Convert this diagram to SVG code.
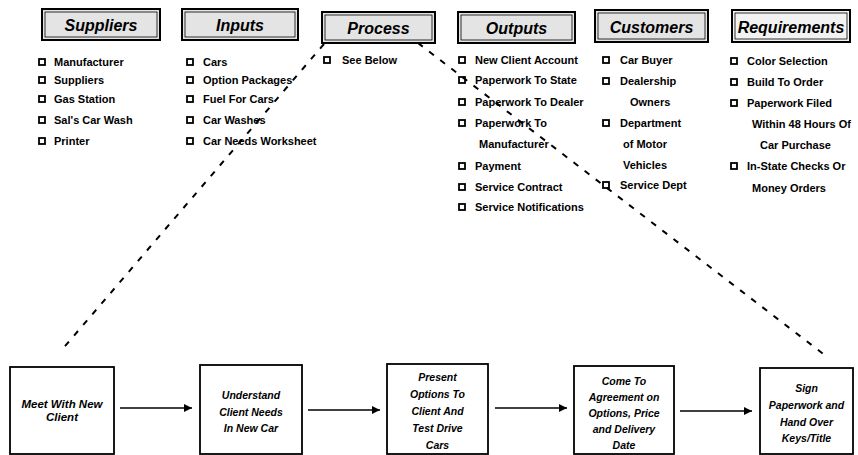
<svg xmlns="http://www.w3.org/2000/svg" width="858" height="455" viewBox="0 0 858 455">
<defs>
<marker id="arr" viewBox="0 0 10 10" refX="10" refY="5" markerWidth="10" markerHeight="8" markerUnits="userSpaceOnUse" orient="auto">
<path d="M0,0 L10,5 L0,10 z" fill="#000"/>
</marker>
</defs>
<style>
.hdr{fill:#e4e4e4;stroke:#000;stroke-width:2}
.hin{fill:none;stroke:#000;stroke-width:0.8}
.ht{font-family:"Liberation Sans",Arial,sans-serif;font-weight:bold;font-style:italic;font-size:16px;text-anchor:middle;fill:#000}
.it{font-family:"Liberation Sans",Arial,sans-serif;font-weight:bold;font-size:11px;fill:#000}
.cb{fill:none;stroke:#000;stroke-width:1.8}
.pb{fill:#fff;stroke:#000;stroke-width:1.8}
.pt{font-family:"Liberation Sans",Arial,sans-serif;font-weight:bold;font-style:italic;font-size:10.5px;text-anchor:middle;fill:#000}
.ar{stroke:#000;stroke-width:1.6;fill:none}
.dash{stroke:#000;stroke-width:2;fill:none;stroke-dasharray:6 8}
</style>
<rect width="858" height="455" fill="#fff"/>

<g id="suppliers">
<rect class="hdr" x="42" y="9" width="118" height="31"/>
<rect class="hin" x="45" y="12" width="112" height="25"/>
<text class="ht" x="101" y="31">Suppliers</text>
<rect class="cb" x="39" y="59" width="6" height="6"/><text class="it" x="54" y="66">Manufacturer</text>
<rect class="cb" x="39" y="77" width="6" height="6"/><text class="it" x="54" y="84">Suppliers</text>
<rect class="cb" x="39" y="96" width="6" height="6"/><text class="it" x="54" y="103">Gas Station</text>
<rect class="cb" x="39" y="117" width="6" height="6"/><text class="it" x="54" y="124">Sal's Car Wash</text>
<rect class="cb" x="39" y="138" width="6" height="6"/><text class="it" x="54" y="145">Printer</text>
</g>

<g id="inputs">
<rect class="hdr" x="182" y="9" width="116" height="31"/>
<rect class="hin" x="185" y="12" width="110" height="25"/>
<text class="ht" x="240" y="31">Inputs</text>
<rect class="cb" x="187" y="59" width="6" height="6"/><text class="it" x="203" y="66">Cars</text>
<rect class="cb" x="187" y="77" width="6" height="6"/><text class="it" x="203" y="84">Option Packages</text>
<rect class="cb" x="187" y="96" width="6" height="6"/><text class="it" x="203" y="103">Fuel For Cars</text>
<rect class="cb" x="187" y="117" width="6" height="6"/><text class="it" x="203" y="124">Car Washes</text>
<rect class="cb" x="187" y="138" width="6" height="6"/><text class="it" x="203" y="145">Car Needs Worksheet</text>
</g>

<g id="process">
<rect class="hdr" x="322" y="12" width="113" height="31"/>
<rect class="hin" x="325" y="15" width="107" height="25"/>
<text class="ht" x="378.5" y="34">Process</text>
<rect class="cb" x="324" y="57" width="6" height="6"/><text class="it" x="342" y="64">See Below</text>
</g>

<g id="outputs">
<rect class="hdr" x="458" y="12" width="117" height="31"/>
<rect class="hin" x="461" y="15" width="111" height="25"/>
<text class="ht" x="516.5" y="34">Outputs</text>
<rect class="cb" x="459" y="57" width="6" height="6"/><text class="it" x="475" y="64">New Client Account</text>
<rect class="cb" x="459" y="77" width="6" height="6"/><text class="it" x="475" y="84">Paperwork To State</text>
<rect class="cb" x="459" y="99" width="6" height="6"/><text class="it" x="475" y="106">Paperwork To Dealer</text>
<rect class="cb" x="459" y="120" width="6" height="6"/><text class="it" x="475" y="127">Paperwork To</text>
<text class="it" x="479" y="148">Manufacturer</text>
<rect class="cb" x="459" y="163" width="6" height="6"/><text class="it" x="475" y="170">Payment</text>
<rect class="cb" x="459" y="184" width="6" height="6"/><text class="it" x="475" y="191">Service Contract</text>
<rect class="cb" x="459" y="204" width="6" height="6"/><text class="it" x="475" y="211">Service Notifications</text>
</g>

<g id="customers">
<rect class="hdr" x="595" y="10" width="113" height="32"/>
<rect class="hin" x="598" y="13" width="107" height="26"/>
<text class="ht" x="651.5" y="33">Customers</text>
<rect class="cb" x="603" y="57" width="6" height="6"/><text class="it" x="620" y="64">Car Buyer</text>
<rect class="cb" x="603" y="78" width="6" height="6"/><text class="it" x="620" y="85">Dealership</text>
<text class="it" x="630" y="106">Owners</text>
<rect class="cb" x="603" y="120" width="6" height="6"/><text class="it" x="620" y="127">Department</text>
<text class="it" x="623" y="148">of Motor</text>
<text class="it" x="623" y="169">Vehicles</text>
<rect class="cb" x="603" y="182" width="6" height="6"/><text class="it" x="620" y="189">Service Dept</text>
</g>

<g id="requirements">
<rect class="hdr" x="732" y="10" width="118" height="32" style="fill:#f2f2f2"/>
<rect class="hin" x="735" y="13" width="112" height="26"/>
<text class="ht" x="791" y="33">Requirements</text>
<rect class="cb" x="731" y="58" width="6" height="6"/><text class="it" x="747" y="65">Color Selection</text>
<rect class="cb" x="731" y="79" width="6" height="6"/><text class="it" x="747" y="86">Build To Order</text>
<rect class="cb" x="731" y="100" width="6" height="6"/><text class="it" x="747" y="107">Paperwork Filed</text>
<text class="it" x="752" y="128">Within 48 Hours Of</text>
<text class="it" x="760" y="149">Car Purchase</text>
<rect class="cb" x="731" y="163" width="6" height="6"/><text class="it" x="747" y="170">In-State Checks Or</text>
<text class="it" x="752" y="192">Money Orders</text>
</g>

<g id="step1">
<rect class="pb" x="10" y="367" width="104" height="87"/>
<text class="pt" x="62" y="408" style="font-size:11.5px">Meet With New</text>
<text class="pt" x="62" y="421" style="font-size:11.5px">Client</text>
</g>
<g id="step2">
<rect class="pb" x="200" y="365" width="102" height="89"/>
<text class="pt" x="251" y="399">Understand</text>
<text class="pt" x="251" y="416">Client Needs</text>
<text class="pt" x="251" y="432">In New Car</text>
</g>
<g id="step3">
<rect class="pb" x="387" y="364" width="101" height="90"/>
<text class="pt" x="437.5" y="381">Present</text>
<text class="pt" x="437.5" y="398">Options To</text>
<text class="pt" x="437.5" y="415">Client And</text>
<text class="pt" x="437.5" y="432">Test Drive</text>
<text class="pt" x="437.5" y="449">Cars</text>
</g>
<g id="step4">
<rect class="pb" x="574" y="366" width="100" height="88"/>
<text class="pt" x="624" y="385">Come To</text>
<text class="pt" x="624" y="401">Agreement on</text>
<text class="pt" x="624" y="417">Options, Price</text>
<text class="pt" x="624" y="433">and Delivery</text>
<text class="pt" x="624" y="449">Date</text>
</g>
<g id="step5">
<rect class="pb" x="760" y="368" width="93" height="86"/>
<text class="pt" x="806.5" y="392">Sign</text>
<text class="pt" x="806.5" y="409">Paperwork and</text>
<text class="pt" x="806.5" y="426">Hand Over</text>
<text class="pt" x="806.5" y="442">Keys/Title</text>
</g>

<g id="connectors">
<line class="ar" x1="120" y1="408" x2="192" y2="408" marker-end="url(#arr)"/>
<line class="ar" x1="308" y1="410" x2="380" y2="410" marker-end="url(#arr)"/>
<line class="ar" x1="495" y1="408" x2="567" y2="408" marker-end="url(#arr)"/>
<line class="ar" x1="680" y1="411" x2="752" y2="411" marker-end="url(#arr)"/>
<line class="dash" x1="324" y1="44" x2="60" y2="352"/>
<line class="dash" x1="418" y1="43" x2="826" y2="356"/>
</g>
</svg>
